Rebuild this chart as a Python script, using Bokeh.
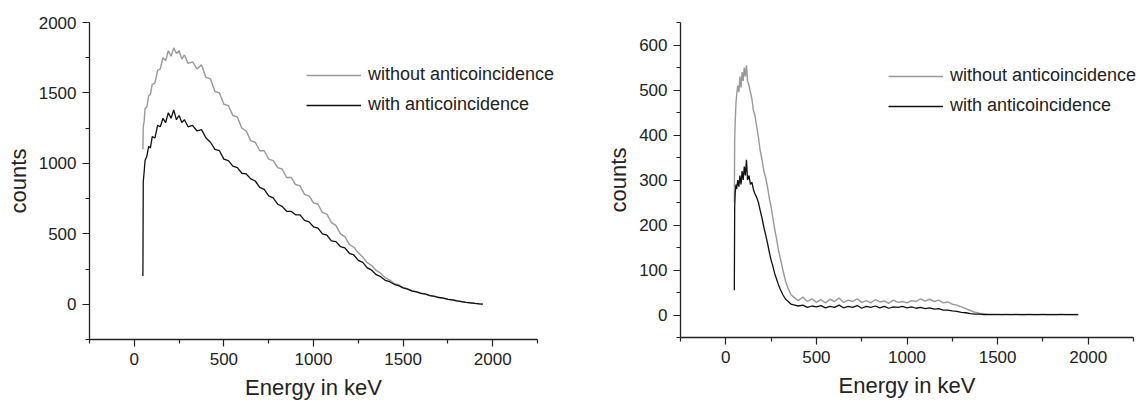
from bokeh.plotting import figure
from bokeh.layouts import row
from bokeh.models import Range1d, FixedTicker, Legend, LegendItem, Title
from bokeh.embed import file_html
from bokeh.resources import INLINE

# ---------------- data ----------------
energy_left = [48, 50, 55, 60, 70, 80, 90, 100, 115, 130, 145, 160, 175, 190, 205, 220, 235, 250, 265, 280,
               300, 325, 350, 375, 400, 425, 450, 475, 500, 525,
               550, 575, 600, 625, 650, 675, 700, 725, 750, 775,
               800, 825, 850, 875, 900, 925, 950, 975, 1000, 1025,
               1050, 1075, 1100, 1125, 1150, 1175, 1200, 1225, 1250, 1275,
               1300, 1325, 1350, 1375, 1400, 1425, 1450, 1475, 1500, 1525,
               1550, 1575, 1600, 1625, 1650, 1675, 1700, 1725, 1750, 1775,
               1800, 1825, 1850, 1875, 1900, 1925, 1945]
left_without = [1100, 1260, 1300, 1390, 1400, 1480, 1490, 1560, 1570, 1660, 1670, 1750, 1730, 1800, 1760, 1820, 1780, 1800, 1740, 1770,
                1710, 1720, 1670, 1700, 1610, 1600, 1510, 1500, 1420, 1410,
                1340, 1330, 1250, 1230, 1160, 1150, 1090, 1090, 1030, 1020,
                970, 960, 900, 900, 850, 840, 780, 770, 720, 710,
                650, 640, 580, 560, 500, 480, 425, 405, 365, 335,
                295, 275, 240, 220, 188, 172, 148, 137, 118, 110,
                96, 90, 78, 74, 62, 58, 49, 44, 36, 32,
                25, 20, 15, 11, 7, 4, 2]
left_with = [200, 870, 940, 1020, 1050, 1120, 1110, 1190, 1180, 1270, 1260, 1320, 1290, 1360, 1320, 1380, 1310, 1340, 1290, 1310,
             1260, 1270, 1230, 1240, 1180, 1150, 1100, 1090, 1030, 1020,
             980, 970, 930, 925, 890, 875, 830, 815, 770, 755,
             710, 695, 660, 660, 635, 635, 595, 585, 550, 540,
             500, 490, 450, 445, 410, 400, 362, 350, 312, 298,
             258, 242, 210, 196, 170, 160, 142, 132, 116, 107,
             94, 88, 77, 72, 61, 56, 48, 43, 35, 31,
             24, 19, 14, 10, 6, 3, 1]

energy_right = [47, 49, 52, 56, 60, 66, 72, 78, 84, 90, 96, 102, 108, 114, 120, 128, 136, 144, 152, 160,
                170, 180, 190, 200, 210, 220, 230, 240, 250, 260, 270, 280, 290, 300, 315, 330, 345, 360, 380,
                400, 425, 450, 475, 500, 525, 550, 575, 600, 625,
                650, 675, 700, 725, 750, 775, 800, 825, 850, 875,
                900, 925, 950, 975, 1000, 1025, 1050, 1075, 1100, 1125,
                1150, 1175, 1200, 1225, 1250, 1275, 1300, 1325, 1350, 1375,
                1400, 1425, 1450, 1475, 1500, 1525, 1550, 1575, 1600, 1625,
                1650, 1675, 1700, 1725, 1750, 1775, 1800, 1825, 1850, 1875,
                1900, 1925, 1945]
right_without = [250, 390, 430, 470, 490, 510, 495, 530, 505, 540, 520, 550, 530, 555, 520, 510, 495, 480, 455, 445,
                 420, 395, 365, 345, 320, 305, 285, 260, 240, 215, 190, 170, 145, 128, 100, 75, 58, 45, 38,
                 32, 40, 30, 36, 28, 34, 27, 35, 30, 38,
                 28, 33, 30, 36, 28, 32, 27, 34, 29, 31,
                 26, 33, 28, 30, 27, 32, 30, 36, 31, 35,
                 30, 33, 27, 29, 24, 22, 18, 14, 10, 6,
                 4, 3, 2, 2, 2, 1, 2, 1, 2, 1,
                 1, 2, 1, 1, 2, 1, 1, 1, 2, 1,
                 1, 1, 1]
right_with = [55, 240, 270, 290, 280, 300, 285, 310, 290, 320, 300, 330, 310, 345, 300, 310, 290, 295, 280, 270,
              262, 250, 232, 215, 195, 178, 160, 140, 122, 108, 92, 80, 68, 58, 45, 35, 30, 24, 22,
              20, 22, 17, 20, 18, 21, 16, 19, 17, 22,
              16, 19, 17, 21, 15, 19, 17, 20, 16, 19,
              15, 18, 17, 19, 16, 18, 15, 17, 14, 16,
              13, 14, 11, 11, 9, 8, 6, 5, 3, 2,
              2, 1, 1, 1, 1, 1, 1, 1, 1, 1,
              1, 1, 1, 1, 1, 1, 1, 1, 1, 1,
              1, 1, 1]

x_major = [0, 500, 1000, 1500, 2000]
x_minor = [-250, 250, 750, 1250, 1750, 2250]
left_y_major = [0, 500, 1000, 1500, 2000]
left_y_minor = [-250, 250, 750, 1250, 1750]
right_y_major = [0, 100, 200, 300, 400, 500, 600]
right_y_minor = [-50, 50, 150, 250, 350, 450, 550, 650]

series_labels = ["without anticoincidence", "with anticoincidence"]
x_label = "Energy in keV"
y_label = "counts"

assert len(energy_left) == len(left_without) == len(left_with)
assert len(energy_right) == len(right_without) == len(right_with)

FONT = "Liberation Sans"
GRAY = "#999999"
BLACK = "#111111"
AXIS = "#222222"
X_START, X_END = -250, 2250
XLABEL_W = 137  # approx. rendered width of the x label at 22px


def make_panel(energy, without, with_, y_start, y_end, y_major, y_minor,
               border_left, axis_w, extra_w, frame_h, border_bottom, legend_loc):
    # the frame is widened by extra_w pixels past the axis end so the legend text is not clipped;
    # the axis itself is bounded to the original range.
    x_end_view = X_END + extra_w * (X_END - X_START) / axis_w
    frame_w = axis_w + extra_w
    p = figure(width=border_left + frame_w, height=22 + frame_h + border_bottom,
               frame_width=frame_w, frame_height=frame_h,
               x_range=Range1d(X_START, x_end_view), y_range=Range1d(y_start, y_end),
               output_backend="svg", toolbar_location=None,
               min_border_left=border_left, min_border_right=0,
               min_border_top=22, min_border_bottom=border_bottom)
    p.outline_line_color = None
    p.xgrid.visible = False
    p.ygrid.visible = False
    p.background_fill_color = "white"
    p.border_fill_color = "white"

    r1 = p.line(energy, without, line_color=GRAY, line_width=1.4)
    r2 = p.line(energy, with_, line_color=BLACK, line_width=1.3)

    p.xaxis.ticker = FixedTicker(ticks=x_major, minor_ticks=x_minor)
    p.yaxis.ticker = FixedTicker(ticks=y_major, minor_ticks=y_minor)
    p.xaxis.bounds = (X_START, X_END)
    for ax in (p.xaxis, p.yaxis):
        ax.axis_line_color = AXIS
        ax.axis_line_width = 1.3
        ax.major_tick_line_color = AXIS
        ax.minor_tick_line_color = AXIS
        ax.major_tick_line_width = 1.2
        ax.minor_tick_line_width = 1.2
        ax.major_tick_out = 7
        ax.major_tick_in = 0
        ax.minor_tick_out = 4
        ax.minor_tick_in = 0
        ax.major_label_text_font = FONT
        ax.major_label_text_font_size = "17px"
        ax.major_label_text_color = AXIS
        ax.axis_label_text_font = FONT
        ax.axis_label_text_font_size = "22px"
        ax.axis_label_text_font_style = "normal"
        ax.axis_label_text_color = AXIS
    p.yaxis.axis_label = y_label
    p.xaxis.major_label_standoff = 6
    p.yaxis.major_label_standoff = 6
    p.yaxis.axis_label_standoff = 5

    # x-axis label as a title below the axis, centred on the bounded axis
    xt = Title(text=x_label, align="left", offset=(axis_w - XLABEL_W) / 2, standoff=10,
               text_font=FONT, text_font_size="22px", text_font_style="normal",
               text_color=AXIS)
    p.add_layout(xt, "below")

    legend = Legend(items=[LegendItem(label=series_labels[0], renderers=[r1]),
                           LegendItem(label=series_labels[1], renderers=[r2])],
                    location=legend_loc, padding=0, margin=0, spacing=9,
                    glyph_height=20, label_height=20, glyph_width=55, label_standoff=7,
                    border_line_color=None, background_fill_alpha=0,
                    label_text_font=FONT, label_text_font_size="18px", label_text_color=AXIS)
    p.add_layout(legend)
    return p


left = make_panel(energy_left, left_without, left_with, -250, 2000, left_y_major, left_y_minor,
                  border_left=89, axis_w=448, extra_w=33, frame_h=317, border_bottom=63,
                  legend_loc=(217, 224))
right = make_panel(energy_right, right_without, right_with, -50, 650, right_y_major, right_y_minor,
                   border_left=110, axis_w=453, extra_w=7, frame_h=315, border_bottom=65,
                   legend_loc=(208, 221))

layout = row(left, right)
open("out.html", "w").write(file_html(layout, INLINE))
